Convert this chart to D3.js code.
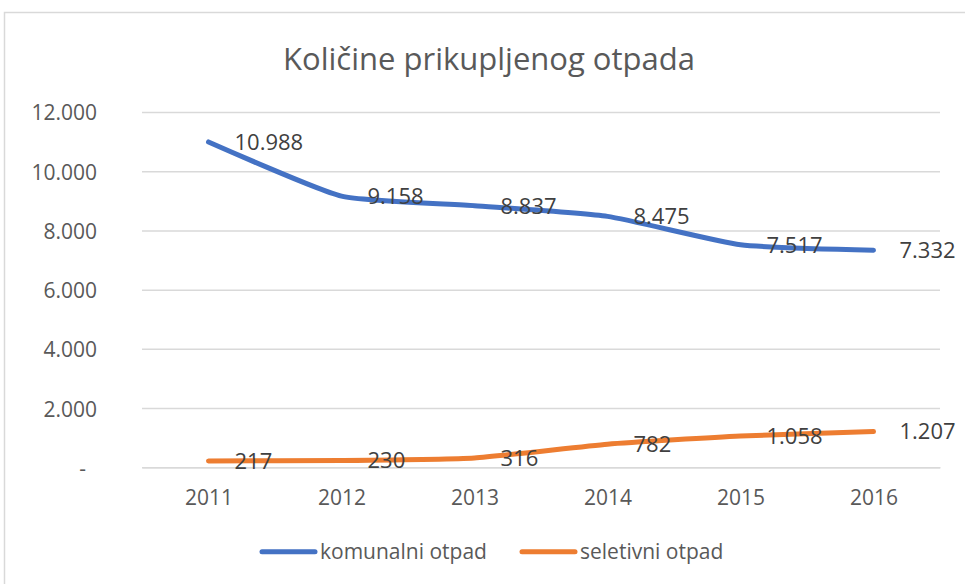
<!DOCTYPE html>
<html>
<head>
<meta charset="utf-8">
<script src="https://cdn.jsdelivr.net/npm/d3@7"></script>
<style>
  html, body { margin: 0; padding: 0; background: #fff; }
  svg, svg text { font-family: "Open Sans", "Noto Sans", sans-serif; }
  svg { display: block; }
</style>
</head>
<body>
<div id="grafico"></div>
<script>
// Data
const godine = ["2011", "2012", "2013", "2014", "2015", "2016"];
const komunalni = [10988, 9158, 8837, 8475, 7517, 7332];
const selektivni = [217, 230, 316, 782, 1058, 1207];
const yTicks = [0, 2000, 4000, 6000, 8000, 10000, 12000];
const nazivi = ["komunalni otpad", "seletivni otpad"];
const naslov = "Količine prikupljenog otpada";

const width = 965;
const height = 584;
const plotLeft = 142;
const plotRight = 940;
const plotTop = 112;
const plotBottom = 467.3;

const boje = ["#4472C4", "#ED7D31"];
const sivaTekst = "#595959";
const sivaLinija = "#d9d9d9";

// number format 12.000
const loc = d3.formatLocale({ decimal: ",", thousands: ".", grouping: [3], currency: ["", ""] });
const fmt = loc.format(",d");

/**************************************************
 * Scales
***************************************************/
const xScale = d3.scalePoint()
  .domain(godine)
  .range([plotLeft, plotRight])
  .padding(0.5);

const yScale = d3.scaleLinear()
  .domain([0, 12000])
  .range([plotBottom, plotTop]);

/**************************************************
 * SVG
***************************************************/
const svg = d3.select("#grafico")
  .append("svg")
  .attr("width", width)
  .attr("height", height);

// chart frame (cut off on the right and bottom, like the screenshot)
svg.append("rect")
  .attr("x", 4.5)
  .attr("y", 12.5)
  .attr("width", 1000)
  .attr("height", 620)
  .attr("fill", "#fff")
  .attr("stroke", sivaLinija)
  .attr("stroke-width", 1.5);

// title
svg.append("text")
  .attr("x", 489)
  .attr("y", 70)
  .attr("text-anchor", "middle")
  .attr("fill", sivaTekst)
  .style("font-size", "31px")
  .text(naslov);

/**************************************************
 * Axis
***************************************************/
const yAxis = d3.axisLeft(yScale)
  .tickValues(yTicks)
  .tickSize(-(plotRight - plotLeft))
  .tickPadding(45)
  .tickFormat(d => d === 0 ? "-" : fmt(d));

const gy = svg.append("g")
  .attr("transform", `translate(${plotLeft},0)`)
  .call(yAxis)
  .attr("font-family", null);

gy.select(".domain").remove();
gy.selectAll(".tick line")
  .attr("stroke", sivaLinija)
  .attr("stroke-width", 1.5);
gy.selectAll(".tick text")
  .attr("fill", sivaTekst)
  .attr("dy", "0.38em")
  .style("font-size", "21px")
  .attr("dx", d => d === 0 ? -11 : 0);

const xAxis = d3.axisBottom(xScale)
  .tickSize(0)
  .tickSizeOuter(0)
  .tickPadding(23);

const gx = svg.append("g")
  .attr("transform", `translate(0,${plotBottom})`)
  .call(xAxis)
  .attr("font-family", null);

gx.select(".domain")
  .attr("stroke", sivaLinija)
  .attr("stroke-width", 1.5);
gx.selectAll(".tick text")
  .attr("fill", sivaTekst)
  .style("font-size", "21px");

/**************************************************
 * Lines
***************************************************/
const linija = d3.line()
  .x((d, i) => xScale(godine[i]))
  .y(d => yScale(d))
  .curve(d3.curveCardinal.tension(0.5));

[komunalni, selektivni].forEach((serija, s) => {
  svg.append("path")
    .datum(serija)
    .attr("d", linija)
    .attr("fill", "none")
    .attr("stroke", boje[s])
    .attr("stroke-width", 5)
    .attr("stroke-linecap", "round")
    .attr("stroke-linejoin", "round");
});

// data labels, right of the point
[komunalni, selektivni].forEach((serija) => {
  svg.append("g")
    .selectAll("text")
    .data(serija)
    .enter()
    .append("text")
    .attr("x", (d, i) => xScale(godine[i]) + 26)
    .attr("y", d => yScale(d))
    .attr("dy", "0.36em")
    .attr("fill", "#404040")
    .style("font-size", "22px")
    .text(d => fmt(d));
});

/**************************************************
 * Legend
***************************************************/
const legendaX = [260, 520];
const legendaY = 551.7;

nazivi.forEach((naziv, i) => {
  const g = svg.append("g")
    .attr("transform", `translate(${legendaX[i]},${legendaY})`);
  g.append("line")
    .attr("x1", 2)
    .attr("x2", 55)
    .attr("stroke", boje[i])
    .attr("stroke-width", 5)
    .attr("stroke-linecap", "round");
  g.append("text")
    .attr("x", 60)
    .attr("dy", "0.35em")
    .attr("fill", sivaTekst)
    .style("font-size", "21px")
    .text(naziv);
});
</script>
</body>
</html>
